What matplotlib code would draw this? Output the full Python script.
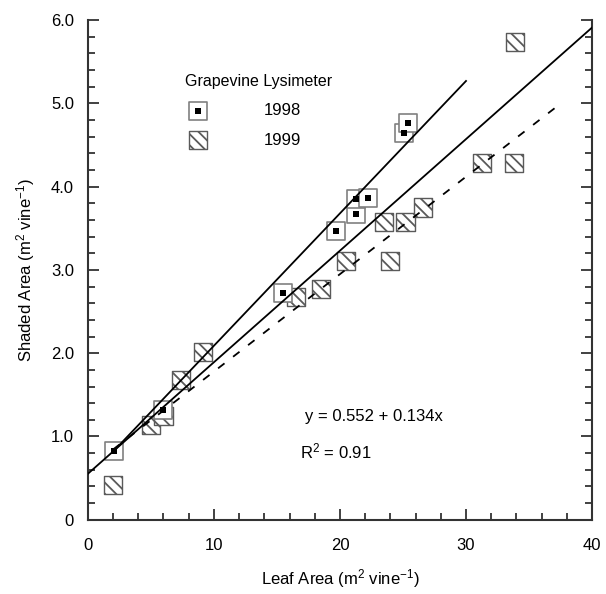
import matplotlib
matplotlib.use("Agg")
import matplotlib.pyplot as plt
from matplotlib.ticker import MultipleLocator, FixedLocator, FixedFormatter
from matplotlib.legend_handler import HandlerTuple
import numpy as np

plt.rcParams["font.family"] = ["Liberation Sans", "DejaVu Sans"]
plt.rcParams["mathtext.default"] = "regular"
plt.rcParams["hatch.linewidth"] = 1.3

# data
leaf_1998 = [2.1, 6.0, 15.5, 19.7, 21.3, 21.3, 22.2, 25.1, 25.4]
shade_1998 = [0.82, 1.32, 2.72, 3.47, 3.67, 3.85, 3.87, 4.64, 4.77]

leaf_1999 = [2.0, 5.0, 6.0, 7.4, 9.1, 16.5, 18.5, 20.5, 23.5, 24.0, 25.2, 26.6, 31.3, 33.8, 33.9]
shade_1999 = [0.42, 1.14, 1.25, 1.68, 2.01, 2.68, 2.77, 3.11, 3.58, 3.11, 3.58, 3.75, 4.29, 4.28, 5.74]

# regression lines: (intercept, slope, x start, x end)
fit_all = (0.552, 0.134, 0.0, 40.0)
fit_1998 = (0.50, 0.159, 2.1, 30.0)
fit_1999 = (0.61, 0.117, 2.0, 37.5)

y_ticks = [0, 1, 2, 3, 4, 5, 6]
y_tick_labels = ["0", "1.0", "2.0", "3.0", "4.0", "5.0", "6.0"]
x_ticks = [0, 10, 20, 30, 40]

fig = plt.figure(figsize=(6.06, 5.94), dpi=100)
ax = fig.add_axes([0.145, 0.125, 0.832, 0.841])

edge = "#808080"
hatch_sq = ax.scatter(leaf_1999, shade_1999, marker="s", s=170, facecolor="white",
                      edgecolor="#5a5a5a", linewidth=1.0, hatch="\\\\\\", zorder=2)
outer = ax.scatter(leaf_1998, shade_1998, marker="s", s=170, facecolor="white",
                   edgecolor=edge, linewidth=1.2, zorder=2)
inner = ax.scatter(leaf_1998, shade_1998, marker="s", s=22, facecolor="black",
                   edgecolor="black", linewidth=0, zorder=2.5)


def draw_fit(fit, **kw):
    b0, b1, x0, x1 = fit
    xs = np.array([x0, x1])
    ax.plot(xs, b0 + b1 * xs, color="black", zorder=3, **kw)


draw_fit(fit_all, lw=1.3)
draw_fit(fit_1998, lw=1.3)
draw_fit(fit_1999, lw=1.3, dashes=(4.5, 6))

ax.text(17.2, 1.24, "y = 0.552 + 0.134x", fontsize=12, va="center")
ax.text(16.8, 0.82, "R$^2$ = 0.91", fontsize=12, va="center")

leg = ax.legend([(outer, inner), hatch_sq], ["1998", "1999"],
                handler_map={tuple: HandlerTuple(ndivide=1, pad=0)},
                title="Grapevine Lysimeter", title_fontsize=11.5, fontsize=12,
                alignment="left", frameon=False, loc="upper left",
                bbox_to_anchor=(0.18, 0.905), handlelength=1.5,
                handletextpad=3.2, labelspacing=0.85, borderaxespad=0)
leg.get_title().set_ha("left")

ax.set_xlim(0, 40)
ax.set_ylim(0, 6.0)
ax.xaxis.set_major_locator(FixedLocator(x_ticks))
ax.xaxis.set_minor_locator(MultipleLocator(2))
ax.yaxis.set_major_locator(FixedLocator(y_ticks))
ax.yaxis.set_major_formatter(FixedFormatter(y_tick_labels))
ax.yaxis.set_minor_locator(MultipleLocator(0.2))

ax.tick_params(which="both", direction="in", right=True, top=False, labelsize=12,
               width=1.3, color="#333333")
ax.tick_params(which="major", length=8, pad=10)
ax.tick_params(axis="x", which="major", pad=13)
ax.tick_params(which="minor", length=5)

ax.spines["top"].set_visible(False)
for side in ["left", "right", "bottom"]:
    ax.spines[side].set_linewidth(1.5)
    ax.spines[side].set_color("#333333")

ax.set_xlabel("Leaf Area (m$^2$ vine$^{-1}$)", fontsize=12, labelpad=10)
ax.set_ylabel("Shaded Area (m$^2$ vine$^{-1}$)", fontsize=12, labelpad=10)

fig.savefig("out.png", dpi=100)
